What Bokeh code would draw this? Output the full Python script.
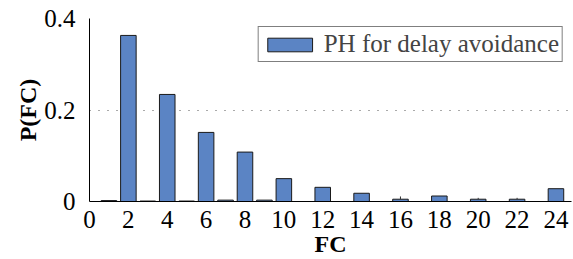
from bokeh.plotting import figure
from bokeh.models import ColumnDataSource, Legend, LegendItem, FixedTicker, Range1d
from bokeh.embed import file_html
from bokeh.resources import INLINE

fc = list(range(1, 25))
prob = [0.002, 0.363, 0.001, 0.234, 0.001, 0.151, 0.003, 0.108, 0.003, 0.050,
        0.0, 0.031, 0.0, 0.018, 0.0, 0.005, 0.0, 0.012, 0.0, 0.005,
        0.0, 0.005, 0.0, 0.028]
err_fc = [16, 20, 22]
err_low = [0.005, 0.005, 0.005]
err_high = [0.011, 0.008, 0.008]
x_ticks = list(range(0, 25, 2))
y_ticks = [0, 0.2, 0.4]

p = figure(width=573, height=259, output_backend="svg", toolbar_location=None,
           x_range=Range1d(0, 24.8), y_range=Range1d(0, 0.4),
           min_border_left=89, min_border_top=18, min_border_right=2, min_border_bottom=57)
p.outline_line_color = None

src = ColumnDataSource(dict(x=fc, top=prob))
r = p.vbar(x="x", top="top", bottom=0, width=0.8, source=src,
           fill_color="#5b84c4", line_color="#1a1a1a", line_width=1)
p.segment(x0=err_fc, y0=err_low, x1=err_fc, y1=err_high, line_color="#333333", line_width=1)

font = "Liberation Serif"
p.xaxis.ticker = FixedTicker(ticks=x_ticks)
p.yaxis.ticker = FixedTicker(ticks=y_ticks)
p.yaxis.major_label_overrides = {0: "0", 0.2: "0.2", 0.4: "0.4"}
for ax in (p.xaxis[0], p.yaxis[0]):
    ax.major_tick_line_color = None
    ax.minor_tick_line_color = None
    ax.major_label_text_font = font
    ax.major_label_text_font_size = "25px"
    ax.major_label_text_color = "black"
    ax.axis_label_text_font = font
    ax.axis_label_text_font_size = "24px"
    ax.axis_label_text_font_style = "bold"
    ax.axis_label_text_color = "black"
    ax.axis_line_color = "black"
    ax.axis_line_width = 1
p.xaxis.axis_label = "FC"
p.yaxis.axis_label = "P(FC)"
p.xaxis.major_label_standoff = 3
p.xaxis.axis_label_standoff = 0
p.yaxis.major_label_standoff = 8
p.yaxis.axis_label_standoff = 0

p.xgrid.grid_line_color = None
p.ygrid.grid_line_color = "#555555"
p.ygrid.grid_line_dash = "1 8"
p.ygrid.grid_line_width = 1

legend = Legend(items=[LegendItem(label="PH for delay avoidance", renderers=[r])],
                location="top_right", margin=8, padding=3, spacing=0,
                glyph_width=56, glyph_height=17, label_standoff=6,
                label_text_font=font, label_text_font_size="25px",
                label_height=17,
                border_line_color="black", border_line_width=1,
                background_fill_color="white", background_fill_alpha=1)
p.add_layout(legend)

open("out.html", "w").write(file_html(p, INLINE))
